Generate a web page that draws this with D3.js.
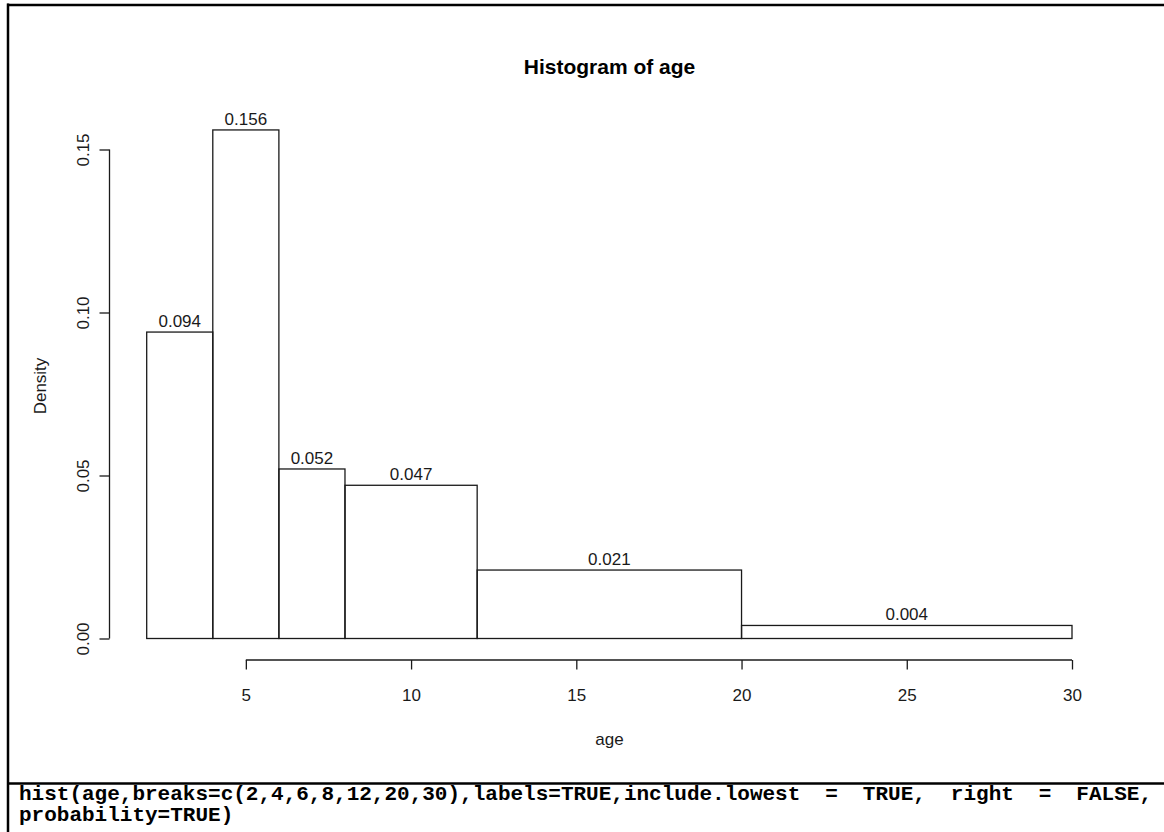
<!DOCTYPE html>
<html>
<head>
<meta charset="utf-8"/>
<script src="https://d3js.org/d3.v7.min.js"></script>
<style>
  body { margin: 0; background: #fff; }
  #wrap { position: relative; width: 1164px; height: 832px; overflow: hidden; }
  #code {
    position: absolute; left: 19px; top: 783px; width: 1133px;
    font-family: "Liberation Mono", "Courier New", monospace; font-weight: bold;
    font-size: 21px; line-height: 21px; padding-top: 1px;
    text-align: justify; text-align-last: left; color: #000;
  }
</style>
</head>
<body>
<div id="wrap">
  <svg width="1164" height="832"></svg>
  <div id="code">hist(age,breaks=c(2,4,6,8,12,20,30),labels=TRUE,include.lowest = TRUE, right = FALSE, probability=TRUE)</div>
</div>
<script>
// datos del histograma
const breaks = [2, 4, 6, 8, 12, 20, 30];
const density = [0.094, 0.156, 0.052, 0.047, 0.021, 0.004];
const xTicks = [5, 10, 15, 20, 25, 30];
const yTicks = [0, 0.05, 0.10, 0.15];

const bins = density.map((d, i) => ({x0: breaks[i], x1: breaks[i + 1], d: d}));

const svg = d3.select("svg");
const font = "Liberation Sans, Arial, sans-serif";
const ink = "#1a1a1a";

// marco
svg.append("line").attr("x1", 8).attr("x2", 8).attr("y1", 3.5).attr("y2", 832)
  .attr("stroke", "#000").attr("stroke-width", 2.5);
svg.append("line").attr("x1", 7).attr("x2", 1164).attr("y1", 5).attr("y2", 5)
  .attr("stroke", "#000").attr("stroke-width", 2.5);
svg.append("line").attr("x1", 7).attr("x2", 1164).attr("y1", 783.5).attr("y2", 783.5)
  .attr("stroke", "#000").attr("stroke-width", 2.5);

// escalas
const x = d3.scaleLinear().domain([2, 30]).range([146.7, 1072]);
const y = d3.scaleLinear().domain([0, 0.15]).range([638.5, 149.5]);

// barras
svg.append("g").selectAll("rect").data(bins).enter().append("rect")
  .attr("x", d => x(d.x0))
  .attr("y", d => y(d.d))
  .attr("width", d => x(d.x1) - x(d.x0))
  .attr("height", d => y(0) - y(d.d))
  .attr("fill", "none").attr("stroke", ink).attr("stroke-width", 1.3);

// etiquetas de las barras
svg.append("g").selectAll("text").data(bins).enter().append("text")
  .attr("x", d => (x(d.x0) + x(d.x1)) / 2)
  .attr("y", d => y(d.d) - 5)
  .attr("text-anchor", "middle")
  .style("font-family", font).style("font-size", "17px").attr("fill", ink)
  .text(d => d3.format(".3f")(d.d));

// eje x
const xAxis = d3.axisBottom(x).tickValues(xTicks).tickSize(9.5).tickPadding(5)
  .tickFormat(d3.format("d"));
const gx = svg.append("g").attr("transform", "translate(0,660)").call(xAxis);
gx.select(".domain").attr("d", "M" + x(5) + ",0H" + x(30));
gx.selectAll("line, path").attr("stroke", ink).attr("stroke-width", 1.3);
gx.selectAll("text").attr("dy", null).attr("y", 41)
  .style("font-family", font).style("font-size", "17px").attr("fill", ink);

// eje y
const yAxis = d3.axisLeft(y).tickValues(yTicks).tickSize(10).tickFormat(d3.format(".2f"));
const gy = svg.append("g").attr("transform", "translate(109.5,0)").call(yAxis);
gy.select(".domain").attr("d", "M0," + y(0) + "V" + y(0.15));
gy.selectAll("line, path").attr("stroke", ink).attr("stroke-width", 1.3);
gy.selectAll(".tick text")
  .attr("x", null).attr("dy", null)
  .attr("text-anchor", "middle")
  .attr("transform", "translate(-21,0) rotate(-90)")
  .style("font-family", font).style("font-size", "17px").attr("fill", ink);

// titulos
svg.append("text").attr("x", 609.5).attr("y", 73.5).attr("text-anchor", "middle")
  .style("font-family", font).style("font-size", "21px").style("font-weight", "bold")
  .attr("fill", "#000").text("Histogram of age");
svg.append("text").attr("x", 609.5).attr("y", 745).attr("text-anchor", "middle")
  .style("font-family", font).style("font-size", "17px").attr("fill", ink).text("age");
svg.append("text").attr("transform", "translate(45.5,386) rotate(-90)")
  .attr("text-anchor", "middle")
  .style("font-family", font).style("font-size", "17px").attr("fill", ink).text("Density");
</script>
</body>
</html>
